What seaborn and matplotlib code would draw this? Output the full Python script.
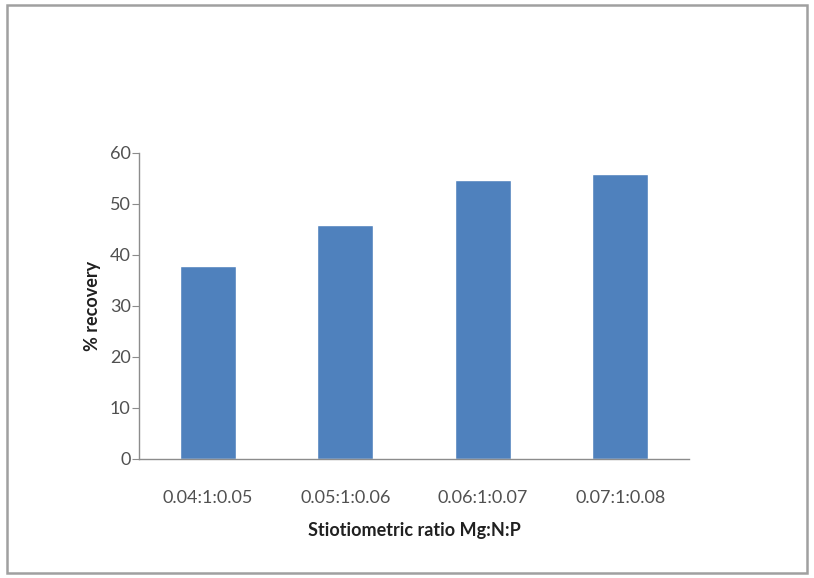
"""Recovery percentage by stoichiometric ratio."""

import pandas as pd
import matplotlib.pyplot as plt
import seaborn as sns
from matplotlib.patches import Rectangle

# Data
ratios = ["0.04:1:0.05", "0.05:1:0.06", "0.06:1:0.07", "0.07:1:0.08"]
recovery = [37.8, 45.8, 54.8, 55.8]

df = pd.DataFrame({"ratio": ratios, "recovery": recovery})

sns.set_style("white")
plt.rcParams['font.family'] = ['Lato', 'DejaVu Sans']

fig = plt.figure(figsize=(8.14, 5.78), dpi=100)
ax = fig.add_axes([0.1708, 0.2059, 0.6756, 0.5294])

sns.barplot(data=df, x="ratio", y="recovery", color="#4F81BD", saturation=1,
            width=0.41, ax=ax)

ax.set_xlim(-0.5, 3.5)
ax.set_ylim(0, 60)
ax.set_yticks(range(0, 61, 10))

# Excel-like axes
for side in ["top", "right"]:
    ax.spines[side].set_visible(False)
for side in ["left", "bottom"]:
    ax.spines[side].set_color("#8C8C8C")
    ax.spines[side].set_linewidth(1)
ax.tick_params(axis="y", length=5, color="#8C8C8C", labelsize=13,
               labelcolor="#505050", pad=1, left=True)
ax.tick_params(axis="x", length=0, labelsize=13, labelcolor="#505050", pad=22)

ax.set_xlabel("Stiotiometric ratio Mg:N:P", fontsize=13, fontweight="bold",
              color="#202020", labelpad=12)
ax.set_ylabel("% recovery", fontsize=13, fontweight="bold", color="#202020",
              labelpad=6)

# Outer frame around the chart
fig.patches.append(Rectangle((0.008, 0.008), 0.984, 0.984, transform=fig.transFigure,
                             fill=False, edgecolor="#A0A0A0", linewidth=1.8))

fig.savefig("out.png", dpi=100)
